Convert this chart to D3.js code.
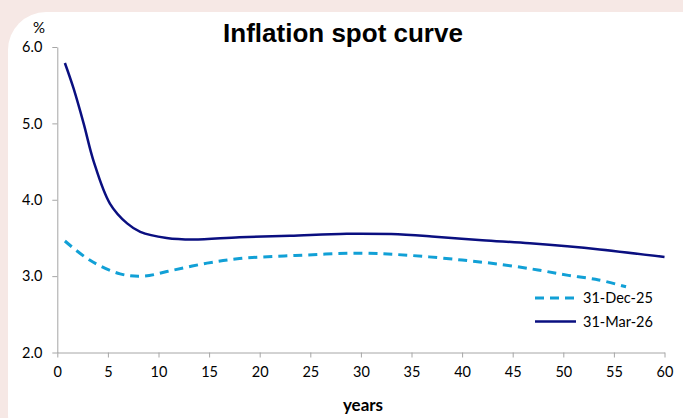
<!DOCTYPE html>
<html>
<head>
<meta charset="utf-8">
<script src="https://cdn.jsdelivr.net/npm/d3@7"></script>
<style>
  html, body { margin: 0; padding: 0; background: #f6e8e5; }
  svg { display: block; }
</style>
</head>
<body>
<svg id="chart" width="683" height="418"></svg>
<script>
// Inflation spot curves: maturity (years) and rate (%)
const yearsDec25 = [0.75, 3.2, 6.2, 8.5, 11.5, 14.8, 18, 23.5, 30, 35, 40, 44, 47.5, 50.5, 53.5, 56.2];
const ratesDec25 = [3.46, 3.21, 3.03, 3.00, 3.08, 3.17, 3.23, 3.27, 3.30, 3.27, 3.21, 3.15, 3.08, 3.01, 2.95, 2.86];

const yearsMar26 = [0.75, 1.6, 2.6, 3.6, 5.2, 6.9, 8.2, 10.8, 13.4, 18, 23, 28.6, 33, 37, 42, 46.7, 53.6, 60];
const ratesMar26 = [5.79, 5.46, 5.00, 4.50, 3.95, 3.69, 3.58, 3.50, 3.48, 3.51, 3.53, 3.555, 3.55, 3.52, 3.47, 3.43, 3.35, 3.25];

const seriesNames = ["31-Dec-25", "31-Mar-26"];
const xTicks = [0, 5, 10, 15, 20, 25, 30, 35, 40, 45, 50, 55, 60];
const yTicks = [2.0, 3.0, 4.0, 5.0, 6.0];

const svg = d3.select("#chart");

// rounded white panel
svg.append("rect")
  .attr("x", 8).attr("y", 12)
  .attr("width", 710).attr("height", 440)
  .attr("rx", 38).attr("ry", 38)
  .attr("fill", "#ffffff");

const x = d3.scaleLinear().domain([0, 60]).range([57.3, 664.5]);
const y = d3.scaleLinear().domain([2, 6]).range([352.5, 47]);

const axisColor = "#a6a6a6";
const tickFont = "Lato, 'Open Sans', sans-serif";

// x axis
const gx = svg.append("g")
  .attr("transform", `translate(0,${y(2)})`)
  .call(d3.axisBottom(x).tickValues(xTicks).tickFormat(d3.format("d")).tickSizeInner(5).tickSizeOuter(0).tickPadding(9));
// y axis
const gy = svg.append("g")
  .attr("transform", `translate(${x(0)},0)`)
  .call(d3.axisLeft(y).tickValues(yTicks).tickFormat(d3.format(".1f")).tickSizeInner(5).tickSizeOuter(0).tickPadding(10));

[gx, gy].forEach(g => {
  g.select(".domain").attr("stroke", axisColor).attr("stroke-width", 1);
  g.selectAll(".tick line").attr("stroke", axisColor).attr("stroke-width", 1);
  g.selectAll(".tick text")
    .attr("fill", "#000")
    .style("font-family", tickFont)
    .style("font-size", "14.5px");
});

// titles
svg.append("text")
  .attr("x", 343).attr("y", 41.5)
  .attr("text-anchor", "middle")
  .style("font-family", "'Liberation Sans', Arial, sans-serif")
  .style("font-weight", "bold")
  .style("font-size", "26px")
  .text("Inflation spot curve");

svg.append("text")
  .attr("x", 39).attr("y", 33)
  .attr("text-anchor", "middle")
  .style("font-family", tickFont)
  .style("font-size", "15px")
  .text("%");

svg.append("text")
  .attr("x", 363).attr("y", 411)
  .attr("text-anchor", "middle")
  .style("font-family", tickFont)
  .style("font-weight", "bold")
  .style("font-size", "17px")
  .text("years");

// curves
const line = d3.line()
  .x(d => x(d[0]))
  .y(d => y(d[1]))
  .curve(d3.curveCatmullRom.alpha(0.5));

const styles = [
  { color: "#11a0d6", width: 3, dash: "9,6" },
  { color: "#0a0f80", width: 2.5, dash: null }
];

const dataDec = d3.zip(yearsDec25, ratesDec25);
const dataMar = d3.zip(yearsMar26, ratesMar26);

[dataDec, dataMar].forEach((data, i) => {
  svg.append("path")
    .datum(data)
    .attr("fill", "none")
    .attr("stroke", styles[i].color)
    .attr("stroke-width", styles[i].width)
    .attr("stroke-dasharray", styles[i].dash)
    .attr("d", line);
});

// legend
const legend = svg.append("g");
seriesNames.forEach((name, i) => {
  const ly = 298 + i * 23.5;
  legend.append("line")
    .attr("x1", 535).attr("x2", 576)
    .attr("y1", ly).attr("y2", ly)
    .attr("stroke", styles[i].color)
    .attr("stroke-width", styles[i].width)
    .attr("stroke-dasharray", styles[i].dash);
  legend.append("text")
    .attr("x", 583).attr("y", ly + 5.3)
    .style("font-family", tickFont)
    .style("font-size", "14.5px")
    .text(name);
});
</script>
</body>
</html>
